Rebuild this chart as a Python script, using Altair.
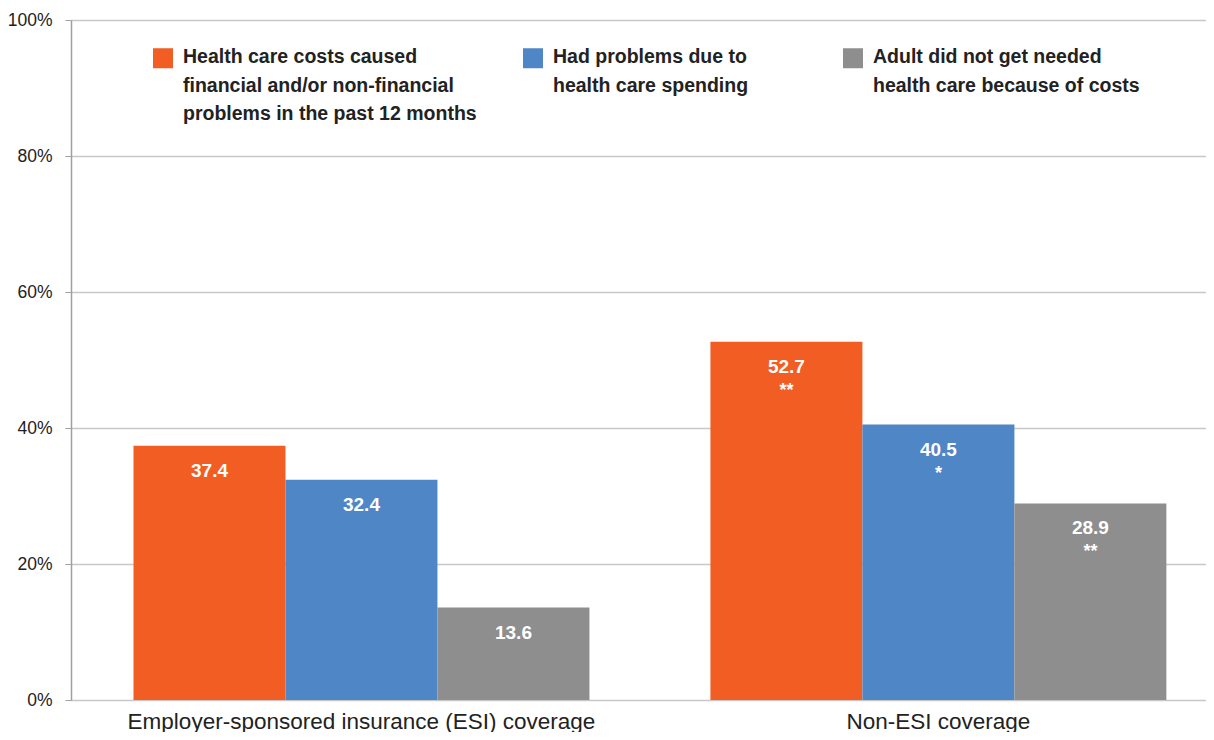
import altair as alt
import pandas as pd

FONT = "'Liberation Sans', Arial, sans-serif"

groups = ["Employer-sponsored insurance (ESI) coverage", "Non-ESI coverage"]
series = [
    "Health care costs caused\nfinancial and/or non-financial\nproblems in the past 12 months",
    "Had problems due to\nhealth care spending",
    "Adult did not get needed\nhealth care because of costs",
]
colors = ["#F15D23", "#4F86C6", "#8E8E8E"]
esi_values = [37.4, 32.4, 13.6]
non_esi_values = [52.7, 40.5, 28.9]
esi_marks = ["", "", ""]
non_esi_marks = ["**", "*", "**"]

rows = []
for g, vals, marks in [(groups[0], esi_values, esi_marks), (groups[1], non_esi_values, non_esi_marks)]:
    for s, v, m in zip(series, vals, marks):
        rows.append({"group": g, "series": s, "value": v, "label": f"{v:.1f}", "stars": m})
df = pd.DataFrame(rows)

x = alt.X(
    "group:N",
    sort=groups,
    scale=alt.Scale(paddingInner=0.2097, paddingOuter=0.0885, align=0.612),
    axis=alt.Axis(
        title=None, labelAngle=0, labelFontSize=22.5, labelColor="#222222",
        labelFont=FONT, labelPadding=10, ticks=False, domain=False, labelLimit=900,
    ),
)
xo = alt.XOffset("series:N", sort=series, scale=alt.Scale(paddingInner=0, paddingOuter=0))
y = alt.Y(
    "value:Q",
    scale=alt.Scale(domain=[0, 100]),
    axis=alt.Axis(
        values=[0, 20, 40, 60, 80, 100], labelExpr="datum.value + '%'", title=None,
        tickSize=6, tickColor="#A0A0A0", domainColor="#A0A0A0", domainWidth=1.5,
        gridColor="#C8C8C8", gridWidth=1.5, labelFontSize=17.5, labelColor="#222222",
        labelFont=FONT, labelPadding=13,
    ),
)

# square whose top edge sits at the symbol anchor, so it lines up with the first label line
SQUARE_TOP = "M-1,0H1V2H-1Z"

# invisible spacing after the second legend entry (ends with a zero-width char so it is not trimmed)
PAD = "\u00a0" * 9 + "\u200b"
legend_expr = (
    "split(replace(datum.label + (length(split(datum.label, '\\n')) < 3 ? '\\n ' : ''),"
    " 'spending', 'spending" + PAD + "'), '\\n')"
)

base = alt.Chart(df)

bars = base.mark_bar().encode(
    x=x, xOffset=xo, y=y,
    color=alt.Color(
        "series:N", sort=series,
        scale=alt.Scale(domain=series, range=colors),
        legend=alt.Legend(
            orient="none", legendX=82, legendY=18, direction="horizontal", columns=3,
            title=None, symbolType=SQUARE_TOP, symbolSize=400, symbolStrokeWidth=0,
            labelFontSize=19.5, labelFontWeight="bold", labelFont=FONT, labelColor="#222222",
            labelExpr=legend_expr, columnPadding=46, labelOffset=10,
            labelLimit=600, padding=0, labelBaseline="top",
        ),
    ),
)

labels = base.mark_text(
    color="white", fontWeight="bold", fontSize=19, baseline="middle", dy=25, font=FONT
).encode(x=x, xOffset=xo, y=y, text="label:N")

stars = base.mark_text(
    color="white", fontWeight="bold", fontSize=18, baseline="middle", dy=49, font=FONT
).encode(x=x, xOffset=xo, y=y, text="stars:N")

chart = (
    alt.layer(bars, labels, stars)
    .properties(
        width=1135, height=680,
        autosize=alt.AutoSizeParams(type="none"),
        padding={"left": 63, "top": 12, "right": 0, "bottom": 32},
    )
    .configure_view(stroke=None)
    .configure(style={"guide-label": {"lineHeight": 28.5}})
)

chart.save("out.html", embed_options={"renderer": "svg", "actions": False})
